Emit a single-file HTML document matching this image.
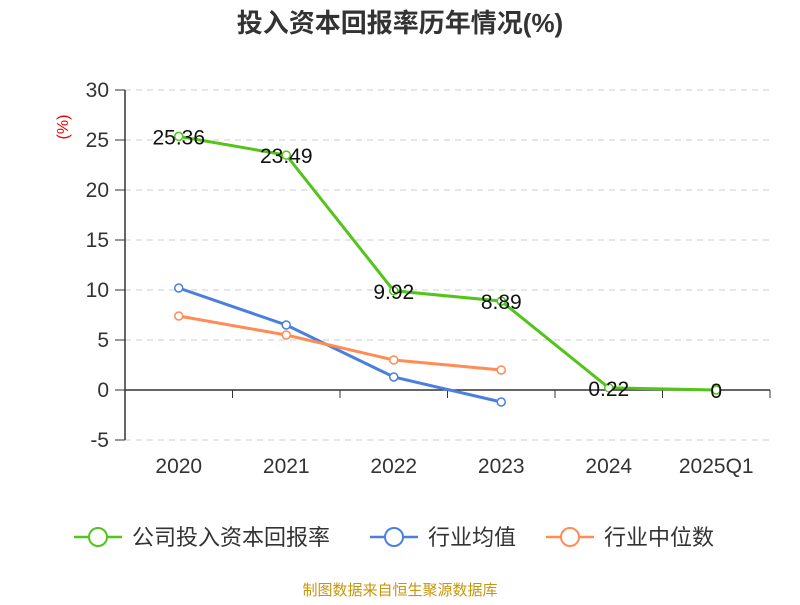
<!DOCTYPE html>
<html><head><meta charset="utf-8"><style>
body{margin:0;background:#fff;font-family:"Liberation Sans","Noto Sans CJK SC",sans-serif;}
svg text{font-family:"Liberation Sans","Noto Sans CJK SC",sans-serif;}
</style></head><body>
<svg id="c" width="800" height="600" xmlns="http://www.w3.org/2000/svg">
<text x="400" y="32" text-anchor="middle" font-size="26" font-weight="bold" fill="#333">投入资本回报率历年情况(%)</text>
<text transform="translate(68,127) rotate(-90)" text-anchor="middle" font-size="16" fill="#e00">(%)</text>
<g id="grid"></g><g id="series"></g>
<g id="legend">
<g><line x1="74" y1="537" x2="122" y2="537" stroke="#52c41a" stroke-width="2.5"/><circle cx="98" cy="537" r="9" fill="#fff" stroke="#52c41a" stroke-width="2"/><text x="132" y="545" font-size="22" fill="#333">公司投入资本回报率</text></g>
<g><line x1="370" y1="537" x2="418" y2="537" stroke="#4a7fe0" stroke-width="2.5"/><circle cx="394" cy="537" r="9" fill="#fff" stroke="#4a7fe0" stroke-width="2"/><text x="428" y="545" font-size="22" fill="#333">行业均值</text></g>
<g><line x1="546" y1="537" x2="594" y2="537" stroke="#ff8c55" stroke-width="2.5"/><circle cx="570" cy="537" r="9" fill="#fff" stroke="#ff8c55" stroke-width="2"/><text x="604" y="545" font-size="22" fill="#333">行业中位数</text></g>
</g>
<text x="400" y="595" text-anchor="middle" font-size="15" fill="#c8960a">制图数据来自恒生聚源数据库</text>
</svg>
<script>
const categories=["2020","2021","2022","2023","2024","2025Q1"];
const companyValues=[25.36,23.49,9.92,8.89,0.22,0];
const companyLabels=["25.36","23.49","9.92","8.89","0.22","0"];
const avgValues=[10.2,6.5,1.3,-1.2];
const medianValues=[7.4,5.5,3.0,2.0];
const yTicks=[30,25,20,15,10,5,0,-5];
const NS="http://www.w3.org/2000/svg";
const x0=125,x1=770,bw=(x1-x0)/6;
function xs(i){return x0+bw*(i+0.5);}
function ys(v){return 390-v*10;}
function mk(t,a,p){const e=document.createElementNS(NS,t);for(const k in a)e.setAttribute(k,a[k]);p.appendChild(e);return e;}
const g=document.getElementById('grid'),s=document.getElementById('series');
yTicks.forEach(v=>{
 if(v!==0){const l=mk('line',{x1:x0,x2:x1,y1:ys(v),y2:ys(v),stroke:'#ccc','stroke-dasharray':'6,5'},g);
 
 }
 mk('line',{x1:x0-10,x2:x0,y1:ys(v),y2:ys(v),stroke:'#333'},g);
 const t=mk('text',{x:x0-16,y:ys(v)+7,'text-anchor':'end','font-size':21,fill:'#333'},g);t.textContent=v;
 
 
});
mk('line',{x1:x0,x2:x0,y1:ys(30),y2:ys(-5),stroke:'#333','stroke-width':1.5},g);
mk('line',{x1:x0,x2:x1,y1:ys(0),y2:ys(0),stroke:'#333','stroke-width':1.5},g);
categories.forEach((c,i)=>{
 mk('line',{x1:x0+bw*(i+1),x2:x0+bw*(i+1),y1:ys(0),y2:ys(0)+8,stroke:'#333'},g);
 const t=mk('text',{x:xs(i),y:473,'text-anchor':'middle','font-size':21,fill:'#333'},g);t.textContent=c;
 
 
});
function line(vals,color,name){
 const p=mk('polyline',{points:vals.map((v,i)=>xs(i)+','+ys(v)).join(' '),fill:'none',stroke:color,'stroke-width':3},s);
 
 
 vals.forEach((v,i)=>{const c=mk('circle',{cx:xs(i),cy:ys(v),r:4,fill:'#fff',stroke:color,'stroke-width':1.5},s);
 
 });
}
line(avgValues,'#4a7fe0','industry-avg');
line(medianValues,'#ff8c55','industry-median');
line(companyValues,'#52c41a','company');
companyValues.forEach((v,i)=>{const t=mk('text',{x:xs(i),y:ys(v)+8,'text-anchor':'middle','font-size':21,fill:'#111'},s);t.textContent=companyLabels[i];
 
 });
</script>
</body></html>
